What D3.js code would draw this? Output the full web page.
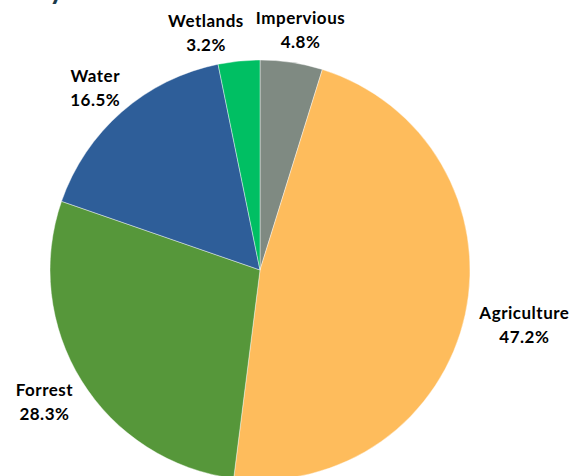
<!DOCTYPE html>
<html>
<head>
<meta charset="utf-8">
<script src="https://cdn.jsdelivr.net/npm/d3@7"></script>
<style>
  body { margin: 0; background: #fff; }
  svg { display: block; }
</style>
</head>
<body>
<svg id="drawing_region"></svg>
<script>
// land cover shares, clockwise from 12 o'clock
const categories = ['Impervious', 'Agriculture', 'Forrest', 'Water', 'Wetlands'];
const shares = [4.8, 47.2, 28.3, 16.5, 3.2];
const colors = ['#7f8a82', '#febc5c', '#56973a', '#2e5e99', '#00bf63'];

const width = 574, height = 476;
const cx = 260, cy = 270, radius = 210;

const data = categories.map((c, i) => ({ name: c, value: shares[i] }));

const svg = d3.select('#drawing_region')
    .attr('width', width)
    .attr('height', height);

// title sits above the crop, only the descender of its last letter shows
svg.append('text')
    .attr('x', 64)
    .attr('y', -1.5)
    .attr('text-anchor', 'end')
    .style('font-family', 'Lato, sans-serif')
    .style('font-weight', 'bold')
    .style('font-size', '28px')
    .attr('fill', '#1b3a4b')
    .text('Land Use Summary');

const chart = svg.append('g')
    .attr('transform', `translate(${cx},${cy})`);

const pie = d3.pie()
    .sort(null)
    .value(d => d.value);

const arc = d3.arc()
    .innerRadius(0)
    .outerRadius(radius);

const color = d3.scaleOrdinal()
    .domain(categories)
    .range(colors);

const arcs = pie(data);

chart.selectAll('path')
    .data(arcs)
    .enter()
    .append('path')
    .attr('d', arc)
    .attr('fill', d => color(d.data.name))
    .attr('stroke', '#ffffff')
    .attr('stroke-opacity', 0.6)
    .style('stroke-width', '0.7px');

// labels: anchored just outside the rim, pushed outward by half the box
const labelArc = d3.arc().innerRadius(radius + 15).outerRadius(radius + 15);
const lineGap = 24;

const labels = chart.selectAll('g.label')
    .data(arcs)
    .enter()
    .append('g')
    .attr('class', 'label');

labels.append('text')
    .attr('text-anchor', 'middle')
    .style('font-family', 'Lato, sans-serif')
    .style('font-weight', 'bold')
    .style('font-size', '17px')
    .style('letter-spacing', '0.5px')
    .attr('fill', '#000')
    .each(function(d) {
        const t = d3.select(this);
        t.append('tspan').attr('x', 0).attr('dy', 0).text(d.data.name);
        t.append('tspan').attr('x', 0).attr('dy', lineGap).text(d3.format('.1f')(d.data.value) + '%');
    });

const boxes = [];
labels.each(function(d) {
    const bb = this.getBBox();
    const a = (d.startAngle + d.endAngle) / 2;
    const p = labelArc.centroid(d);
    const w = bb.width, h = lineGap + 17;
    const x = p[0] + Math.sin(a) * w / 2;
    const y = p[1] - Math.cos(a) * h / 2;
    boxes.push({ node: this, x: x, y: y, w: w, h: h });
});

// simple overlap fix: push a later label leftward off the first one
for (let i = 1; i < boxes.length; i++) {
    const b = boxes[i];
    boxes.slice(0, i).forEach(o => {
        const overlapX = Math.abs(b.x - o.x) < (b.w + o.w) / 2 + 8;
        const overlapY = Math.abs(b.y - o.y) < (b.h + o.h) / 2;
        if (overlapX && overlapY) {
            b.x = o.x - (b.w + o.w) / 2 - 12;
            b.y += 5;
        }
    });
}

boxes.forEach(b => {
    d3.select(b.node)
        .attr('transform', `translate(${b.x},${b.y - b.h / 2 + 17})`);
});
</script>
</body>
</html>
